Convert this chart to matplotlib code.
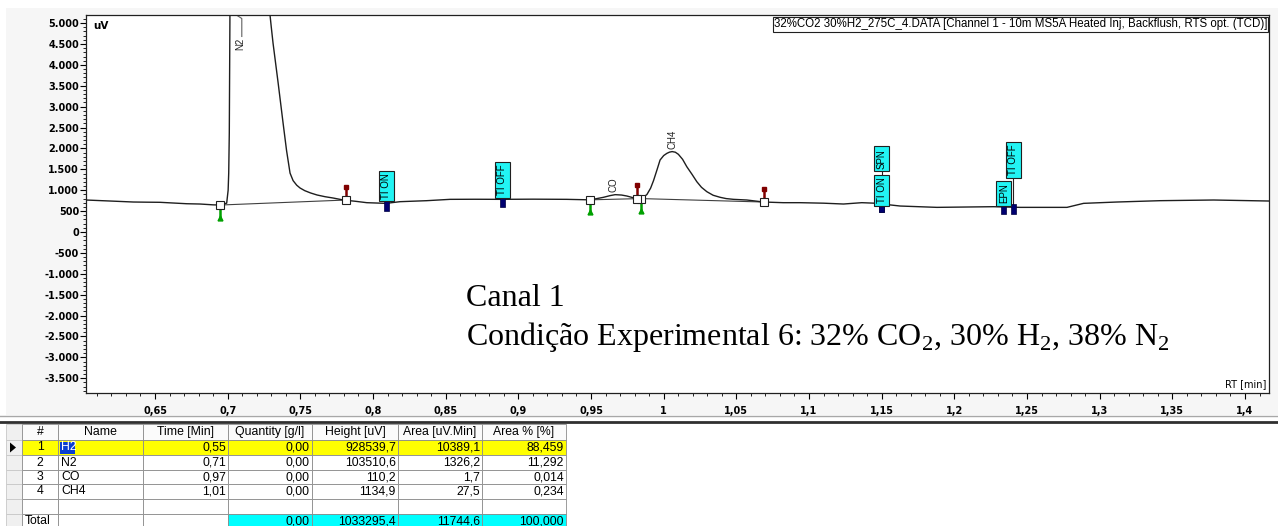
import numpy as np
import matplotlib.pyplot as plt
from matplotlib.patches import Rectangle, Polygon
from matplotlib.ticker import MultipleLocator, FuncFormatter

plt.rcParams['font.family'] = ['Liberation Sans', 'DejaVu Sans']

# chromatogram trace: retention time [min] and detector signal [uV]
rt_min = [0.6025, 0.6100, 0.6190, 0.6270, 0.6351, 0.6440, 0.6534, 0.6620,
          0.6718, 0.6810, 0.6901, 0.6950, 0.6980, 0.6993, 0.7003, 0.7007,
          0.7011, 0.7016, 0.7100, 0.7250, 0.7288, 0.7300, 0.7312, 0.7347,
          0.7381, 0.7405, 0.7429, 0.7450, 0.7475, 0.7498, 0.7530, 0.7570,
          0.7615, 0.7670, 0.7725, 0.7796, 0.7880,
          0.7957, 0.8090, 0.8186, 0.8370, 0.8530, 0.8700, 0.8874, 0.9100,
          0.9333, 0.9494, 0.9540, 0.9585, 0.9630, 0.9666, 0.9710, 0.9746,
          0.9780, 0.9815, 0.9861, 0.9885, 0.9910, 0.9930, 0.9955, 0.9975,
          1.0000, 1.0022, 1.0040, 1.0058, 1.0080, 1.0101, 1.0130, 1.0159,
          1.0195, 1.0228, 1.0260, 1.0297, 1.0340, 1.0389, 1.0430, 1.0480,
          1.0572, 1.0687, 1.0822, 1.0939, 1.1100, 1.1237,
          1.1363, 1.1450, 1.1627, 1.1880, 1.2269, 1.2453, 1.2775, 1.2889,
          1.3119, 1.3416, 1.3784, 1.4162]
signal_uv = [766, 755, 742, 730, 718, 714, 711, 695,
             677, 670, 650, 646, 680, 690, 1000, 1410,
             2370, 5600, 104210, 15000, 5300, 4900, 4520, 3570,
             2610, 1950, 1410, 1230, 1120, 1053, 990, 935,
             886, 845, 814, 766, 735,
             702, 686, 726, 750, 782, 784, 782, 786,
             782, 770, 800, 830, 870, 894, 885, 862,
             830, 798, 830, 900, 1050, 1230, 1500, 1723,
             1830, 1883, 1912, 1925, 1910, 1860, 1740, 1563,
             1380, 1204, 1070, 965, 880, 830, 800, 782,
             766, 718, 702, 702, 690, 670,
             702, 690, 622, 590, 606, 590, 590, 686,
             718, 750, 766, 742]

# integration baselines (start, end) for each peak
peak_names = ['N2', 'CO', 'CH4']
base_start_rt = [0.6950, 0.9494, 0.9845]
base_start_uv = [646, 770, 800]
base_end_rt = [0.7815, 0.9815, 1.0687]
base_end_uv = [766, 798, 718]
label_rt = [0.7085, 0.9652, 1.0058]
label_uv = [4500, 1125, 2225]

# timed events
event_names = ['TI ON', 'TI OFF', 'TI ON', 'SPN', 'EPN', 'TI OFF']
event_rt = [0.809, 0.889, 1.150, 1.150, 1.234, 1.2405]

# peak table
col_names = ['#', 'Name', 'Time [Min]', 'Quantity [g/l]', 'Height [uV]',
             'Area [uV.Min]', 'Area % [%]']
peak_ids = [1, 2, 3, 4]
comp_names = ['H2', 'N2', 'CO', 'CH4']
time_min = [0.55, 0.71, 0.97, 1.01]
quantity = [0.00, 0.00, 0.00, 0.00]
height_uv = [928539.7, 103510.6, 110.2, 1134.9]
area_uvmin = [10389.1, 1326.2, 1.7, 27.5]
area_pct = [88.459, 11.292, 0.014, 0.234]
total_quantity = 0.00
total_height = 1033295.4
total_area = 11744.6
total_pct = 100.000

W, H = 1278, 526
fig = plt.figure(figsize=(W / 100, H / 100), dpi=100, facecolor='white')

# overlay in pixel units for the panel background, separator and table
tab = fig.add_axes([0, 0, 1, 1])
tab.set_xlim(0, W)
tab.set_ylim(H, 0)
tab.axis('off')
tab.patch.set_visible(False)
tab.add_patch(Rectangle((6, 8), W - 6, 407, fc='#f6f6f6', ec='none'))
tab.plot([0, W], [416, 416], color='#a8a8a8', lw=1)
tab.plot([0, W], [422, 422], color='#303030', lw=2)

ax = fig.add_axes([86 / W, 1 - 393 / H, (1269 - 86) / W, (393 - 15) / H])
ax.set_facecolor('white')
ax.set_xlim(0.6025, 1.4165)
ax.set_ylim(-3853, 5194)

ax.plot(rt_min, signal_uv, color='#1e1e1e', lw=1, zorder=3)
for i in range(len(peak_names)):
    ax.plot([base_start_rt[i], base_end_rt[i]], [base_start_uv[i], base_end_uv[i]],
            color='#404040', lw=0.8, zorder=2)
    ax.text(label_rt[i], label_uv[i], peak_names[i], rotation=90, ha='center',
            va='center', fontsize=7, color='#202020')
# leader from the N2 label to the clipped apex
ax.plot([0.7097, 0.7097, 0.7066], [4680, 5110, 5180], color='#606060', lw=0.8)

# peak start (green) and end (dark red) ticks
for x, y in zip(base_start_rt, base_start_uv):
    ax.plot([x, x], [y - 60, y - 300], color='#00a000', lw=1.8, zorder=4)
    ax.plot(x, y - 300, marker='^', ms=3.5, color='#00a000', zorder=4)
for x, y in zip(base_end_rt, base_end_uv):
    ax.plot([x, x], [y + 60, y + 300], color='#800000', lw=1.8, zorder=4)
    ax.plot(x, y + 320, marker='s', ms=3.5, color='#800000', zorder=4)
ax.plot(base_start_rt + base_end_rt, base_start_uv + base_end_uv, ls='none',
        marker='s', ms=6, mfc='white', mec='#202020', mew=0.8, zorder=5)

# event boxes: bottom of box in uV, marker top and bottom in uV
box_bottom = [790, 880, 690, 1520, 690, 1360]
mark_top = [766, 862, 670, 670, 670, 670]
mark_bot = [500, 600, 470, 470, 420, 420]
ax.plot([1.150, 1.150], [670, 1520], color='#202020', lw=0.8, zorder=5)
ax.plot([1.2405, 1.2405], [670, 1360], color='#202020', lw=0.8, zorder=5)
for name, x, yb, mt, mb in zip(event_names, event_rt, box_bottom, mark_top, mark_bot):
    ax.add_patch(Rectangle((x - 0.0017, mb), 0.0034, mt - mb, fc='#000070',
                           ec='#000040', lw=0.5, zorder=6))
    ax.text(x, yb, name, rotation=90, ha='center', va='bottom', fontsize=7,
            zorder=7, bbox=dict(boxstyle='square,pad=0.25', fc='#22f4f4',
                                ec='#202020', lw=0.8))

ax.xaxis.set_major_locator(MultipleLocator(0.05))
ax.xaxis.set_minor_locator(MultipleLocator(0.01))
ax.yaxis.set_major_locator(MultipleLocator(500))
ax.yaxis.set_minor_locator(MultipleLocator(100))
ax.xaxis.set_major_formatter(FuncFormatter(lambda v, p: f'{v:.2f}'.rstrip('0').rstrip('.').replace('.', ',')))
ax.yaxis.set_major_formatter(FuncFormatter(lambda v, p: f'{int(round(v)):,}'.replace(',', '.')))
ax.tick_params(which='major', direction='out', length=4, width=0.8, pad=1,
               labelsize=7)
ax.tick_params(which='minor', direction='out', length=2, width=0.6)
ax.tick_params(axis='x', pad=5)
for lab in ax.get_xticklabels() + ax.get_yticklabels():
    lab.set_fontfamily('DejaVu Sans')
    lab.set_fontweight('bold')
for sp in ax.spines.values():
    sp.set_color('#202020')
    sp.set_linewidth(0.9)

ax.text(0.006, 0.972, 'uV', transform=ax.transAxes, ha='left', va='center',
        fontsize=7.5, fontfamily='DejaVu Sans', fontweight='bold')
ax.text(0.9975, 0.024, 'RT [min]', transform=ax.transAxes, ha='right',
        va='center', fontsize=7, fontfamily='DejaVu Sans')
ax.text(0.9985, 0.975,
        '32%CO2 30%H2_275C_4.DATA [Channel 1 - 10m MS5A Heated Inj, Backflush, RTS opt. (TCD)]',
        transform=ax.transAxes, ha='right', va='center', fontsize=8.3,
        bbox=dict(boxstyle='square,pad=0.1', fc='white', ec='#202020', lw=0.8))

fig.text(466 / W, 1 - 306 / H, 'Canal 1', fontsize=23, fontfamily='Liberation Serif')
fig.text(466 / W, 1 - 345 / H,
         r'Condição Experimental 6: 32% CO$_\mathregular{2}$, 30% H$_\mathregular{2}$, 38% N$_\mathregular{2}$',
         fontsize=23, fontfamily='Liberation Serif')

# peak table
col_x = [6, 22, 58, 143, 228, 312, 398, 482, 566]
row_y = [424, 440, 455, 470, 484, 499, 514, 529]


def num(v, d):
    return f'{v:.{d}f}'.replace('.', ',')


rows = []
for i in range(len(peak_ids)):
    rows.append([str(peak_ids[i]), comp_names[i], num(time_min[i], 2), num(quantity[i], 2),
                 num(height_uv[i], 1), num(area_uvmin[i], 1), num(area_pct[i], 3)])
rows.append([''] * 7)
rows.append(['Total', '', '', num(total_quantity, 2), num(total_height, 1),
             num(total_area, 1), num(total_pct, 3)])

for r in range(len(row_y) - 1):
    y0, y1 = row_y[r], row_y[r + 1]
    yc = (y0 + y1) / 2
    tab.add_patch(Rectangle((col_x[0], y0), col_x[1] - col_x[0], y1 - y0,
                            fc='#f0f0f0', ec='#c8c8c8', lw=0.6))
    for c in range(7):
        x0, x1 = col_x[c + 1], col_x[c + 2]
        fc = 'white'
        if r == 0:
            fc = '#fbfbfb'
        elif r == 1:
            fc = '#ffff00'
        elif r == 6 and c >= 3:
            fc = '#00ffff'
        tab.add_patch(Rectangle((x0, y0), x1 - x0, y1 - y0, fc=fc,
                                ec='#8c8c8c', lw=0.6))
        if r == 0:
            tab.text((x0 + x1) / 2, yc, col_names[c], ha='center', va='center',
                     fontsize=8.8)
            continue
        txt = rows[r - 1][c]
        if not txt:
            continue
        if c == 0 and r < 6:
            tab.text((x0 + x1) / 2, yc, txt, ha='center', va='center', fontsize=8.8)
        elif c <= 1:
            color = 'black'
            if r == 1:
                tab.add_patch(Rectangle((x0 + 2, y0 + 1.5), 15, y1 - y0 - 3,
                                        fc='#0a3fd0', ec='none'))
                color = 'white'
            tab.text(x0 + 3, yc, txt, ha='left', va='center', fontsize=8.8,
                     color=color)
        else:
            tab.text(x1 - 2, yc, txt, ha='right', va='center', fontsize=8.8)

# current-row pointer
tab.add_patch(Polygon([[10, 442.5], [10, 452.5], [16, 447.5]], closed=True,
                      fc='black', ec='none'))

fig.savefig('out.png', dpi=100, facecolor=fig.get_facecolor())
